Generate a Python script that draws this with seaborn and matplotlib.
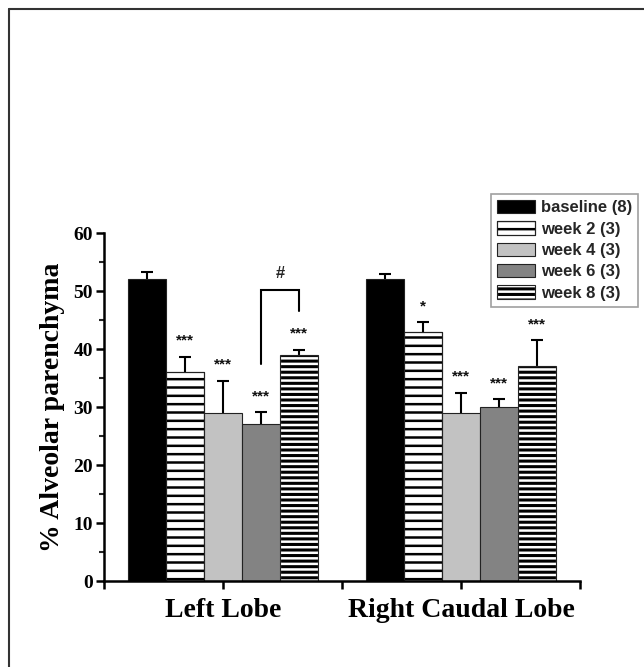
import matplotlib
matplotlib.use('Agg')
import matplotlib.pyplot as plt
import seaborn as sns
import pandas as pd
from matplotlib.patches import Rectangle
from matplotlib.lines import Line2D
from matplotlib.ticker import MultipleLocator

# ---------------- data ----------------
lobes = ['Left Lobe', 'Right Caudal Lobe']
groups = ['baseline (8)', 'week 2 (3)', 'week 4 (3)', 'week 6 (3)', 'week 8 (3)']
left_means = [52.0, 36.0, 29.0, 27.0, 39.0]
left_errs = [1.2, 2.6, 5.5, 2.1, 0.9]
right_means = [52.0, 43.0, 29.0, 30.0, 37.0]
right_errs = [1.0, 1.6, 3.4, 1.3, 4.5]
left_stars = ['', '***', '***', '***', '***']
right_stars = ['', '*', '***', '***', '***']
yticks = [0, 10, 20, 30, 40, 50, 60]
bracket_label = '#'
bracket_top = 50.2
bracket_left_bottom = 37.5
bracket_right_bottom = 46.5

# ---------------- style ----------------
bar_colors = ['#000000', '#ffffff', '#c2c2c2', '#838383', '#000000']
bar_hatches = ['', '--', '', '', '---']
hatch_colors = ['#000000', '#000000', '#000000', '#000000', '#ffffff']

sns.set_theme(style='white')
plt.rcParams['hatch.linewidth'] = 1.8
serif = ['Liberation Serif', 'DejaVu Serif']
sans = ['Liberation Sans', 'DejaVu Sans']

rows = []
for lobe, means, errs in [(lobes[0], left_means, left_errs), (lobes[1], right_means, right_errs)]:
    for g, m, e in zip(groups, means, errs):
        rows.append({'lobe': lobe, 'group': g, 'mean': m, 'err': e})
df = pd.DataFrame(rows)

fig = plt.figure(figsize=(6.44, 6.67), dpi=100)
ax = fig.add_axes([104 / 644, 1 - 581 / 667, (580 - 104) / 644, (581 - 233) / 667])

sns.barplot(data=df, x='lobe', y='mean', hue='group', order=lobes, hue_order=groups,
            palette=bar_colors, width=0.8, gap=0, errorbar=None, edgecolor='#222222',
            linewidth=0.8, legend=False, ax=ax, saturation=1, zorder=2)

err_table = {lobes[0]: left_errs, lobes[1]: right_errs}
star_table = {lobes[0]: left_stars, lobes[1]: right_stars}
legend_handles = []
centers = {}
bar_containers = list(ax.containers)
for gi, cont in enumerate(bar_containers):
    outline_first = None
    for li, p in enumerate(cont.patches):
        if bar_hatches[gi]:
            p.set_hatch(bar_hatches[gi])
            p.set_edgecolor(hatch_colors[gi])
            outline = Rectangle((p.get_x(), p.get_y()), p.get_width(), p.get_height(),
                                fill=False, edgecolor='#222222', linewidth=0.8, zorder=2.1)
            ax.add_patch(outline)
            if outline_first is None:
                outline_first = outline
        xc = p.get_x() + p.get_width() / 2
        h = p.get_height()
        e = err_table[lobes[li]][gi]
        centers[(li, gi)] = (xc, h, e)
        # upper-only error bar with a cap
        ax.vlines(xc, h, h + e, color='black', lw=1.5, zorder=1.5)
        ax.plot([xc], [h + e], marker='_', ms=8, mew=1.5, color='black', zorder=1.5)
        s = star_table[lobes[li]][gi]
        if s:
            ax.text(xc, h + e + 2.8, s, ha='center', va='center', fontsize=11,
                    fontweight='bold', family=sans, color='#111111')
    if bar_hatches[gi]:
        legend_handles.append((cont.patches[0], outline_first))
    else:
        legend_handles.append(cont.patches[0])

# bracket between week 6 and week 8 of the left lobe
x6 = centers[(0, 3)][0]
x8 = centers[(0, 4)][0]
ax.plot([x6, x6, x8, x8], [bracket_left_bottom, bracket_top, bracket_top, bracket_right_bottom],
        color='black', lw=1.5, solid_joinstyle='miter')
ax.text((x6 + x8) / 2, bracket_top + 1.6, bracket_label, ha='center', va='bottom',
        fontsize=12, fontweight='bold', family=sans)

# axes formatting
ax.set_xlim(-0.5, 1.5)
ax.set_ylim(0, 60)
ax.set_xticks([-0.5, 0, 0.5, 1, 1.5])
ax.set_xticklabels(['', 'Left Lobe', '', 'Right Caudal Lobe', ''], fontsize=20,
                   fontweight='bold', family=serif)
ax.set_yticks(yticks)
ax.set_yticklabels([str(t) for t in yticks], fontsize=14, fontweight='bold', family=serif)
ax.yaxis.set_minor_locator(MultipleLocator(5))
ax.tick_params(axis='both', which='major', direction='out', length=6, width=1.8,
               color='black', labelcolor='black', bottom=True, left=True)
ax.tick_params(axis='x', pad=6)
ax.tick_params(axis='y', pad=2)
ax.tick_params(axis='y', which='minor', direction='out', length=3.5, width=1.5, left=True)
for side in ['top', 'right']:
    ax.spines[side].set_visible(False)
for side in ['left', 'bottom']:
    ax.spines[side].set_color('black')
    ax.spines[side].set_linewidth(1.8)
ax.set_xlabel('')
ax.set_ylabel('% Alveolar parenchyma', fontsize=20, fontweight='bold', family=serif,
              labelpad=6, color='black')
ax.set_facecolor('none')

leg = fig.legend(legend_handles, groups, loc='upper left',
                 bbox_to_anchor=(491 / 644, 1 - 194 / 667), borderaxespad=0,
                 prop={'family': sans, 'weight': 'bold', 'size': 12},
                 handlelength=2.3, handleheight=0.85, handletextpad=0.35,
                 labelspacing=0.36, borderpad=0.35, frameon=True, fancybox=False)
leg.get_frame().set_edgecolor('#888888')
leg.get_frame().set_linewidth(1.2)

# outer frame (left and top edges)
fig.add_artist(Line2D([9 / 644, 9 / 644], [0, 1 - 9 / 667], transform=fig.transFigure,
                      color='#333333', lw=1.5))
fig.add_artist(Line2D([9 / 644, 1], [1 - 9 / 667, 1 - 9 / 667], transform=fig.transFigure,
                      color='#333333', lw=1.5))

fig.savefig('out.png', dpi=100)
